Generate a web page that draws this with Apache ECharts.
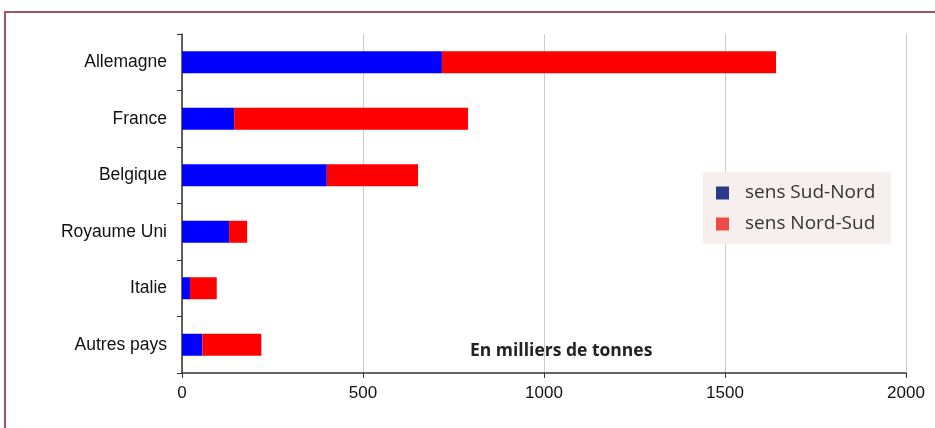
<!DOCTYPE html>
<html>
<head>
<meta charset="utf-8">
<script src="https://cdn.jsdelivr.net/npm/echarts@6/dist/echarts.min.js"></script>
<style>
  html, body { margin: 0; padding: 0; background: #fff; overflow: hidden; }
  .frame {
    position: absolute; left: 4px; top: 11px;
    width: 1000px; height: 500px;
    border: 2px solid #a0545c;
  }
  #chart { position: absolute; left: 0; top: 0; width: 935px; height: 428px; }
</style>
</head>
<body>
<div class="frame"></div>
<div id="chart"></div>
<script>
const countries = ['Allemagne', 'France', 'Belgique', 'Royaume Uni', 'Italie', 'Autres pays']
const sudNord = [718, 144, 400, 130, 22, 56]
const nordSud = [923, 646, 252, 50, 74, 163]
const xTicks = [0, 500, 1000, 1500, 2000]

const chart = echarts.init(document.getElementById('chart'))
chart.setOption({
  animation: false,
  grid: {
    left: 182,
    right: 29,
    top: 34,
    bottom: 55
  },
  xAxis: {
    type: 'value',
    min: xTicks[0],
    max: xTicks[xTicks.length - 1],
    interval: 500,
    axisLine: { show: true, lineStyle: { color: '#333', width: 1.5 } },
    axisTick: { show: true, length: 5, lineStyle: { color: '#333' } },
    axisLabel: {
      color: '#111',
      fontFamily: 'Liberation Sans',
      fontSize: 17,
      margin: 12,
      formatter: v => String(v)
    },
    splitLine: { show: true, lineStyle: { color: '#cccccc', width: 1 } }
  },
  yAxis: {
    type: 'category',
    inverse: true,
    data: countries,
    axisLine: { show: true, lineStyle: { color: '#333', width: 1.5 } },
    axisTick: { show: true, length: 5, lineStyle: { color: '#333' } },
    axisLabel: {
      color: '#111',
      fontFamily: 'Liberation Sans',
      fontSize: 17.5,
      margin: 15
    }
  },
  legend: {
    orient: 'vertical',
    left: 703,
    top: 172,
    padding: [11, 16, 10, 13],
    backgroundColor: '#f7efee',
    itemWidth: 13,
    itemHeight: 13,
    itemGap: 11,
    icon: 'rect',
    textStyle: {
      color: '#333',
      fontFamily: 'Open Sans',
      fontSize: 19,
      lineHeight: 20,
      padding: [0, 0, 0, 11]
    },
    data: [
      { name: 'sens Sud-Nord', itemStyle: { color: '#2b3a88' } },
      { name: 'sens Nord-Sud', itemStyle: { color: '#ef4a46' } }
    ]
  },
  graphic: [
    {
      type: 'text',
      left: 470,
      top: 342,
      style: {
        text: 'En milliers de tonnes',
        fill: '#222',
        font: 'bold 17.5px "Open Sans"'
      }
    }
  ],
  series: [
    {
      name: 'sens Sud-Nord',
      type: 'bar',
      stack: 'total',
      barWidth: 22,
      itemStyle: { color: '#0000ff' },
      data: sudNord
    },
    {
      name: 'sens Nord-Sud',
      type: 'bar',
      stack: 'total',
      barWidth: 22,
      itemStyle: { color: '#ff0000' },
      data: nordSud
    }
  ]
})
</script>
</body>
</html>
